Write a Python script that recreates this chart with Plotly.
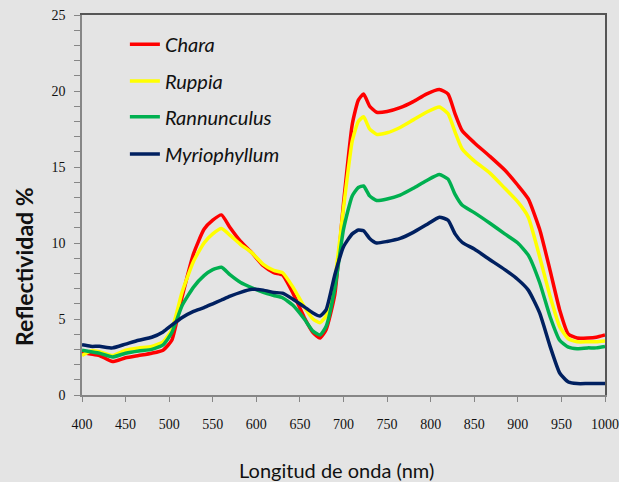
import plotly.graph_objects as go

# Wavelength sampling (nm)
wavelength = [400, 410, 420, 435, 450, 465, 480, 493, 503, 515, 528, 540, 550, 560,
              570, 582, 595, 608, 620, 630, 642, 655, 665, 673, 680, 690, 700, 710,
              717, 723, 730, 738, 750, 765, 780, 795, 810, 820, 828, 836, 850, 868,
              885, 900, 912, 925, 937, 948, 958, 968, 980, 990, 1000]

# Reflectance (%) per species
chara = [2.8, 2.7, 2.6, 2.2, 2.45, 2.6, 2.75, 2.95, 3.6, 6.5, 9.3, 10.9, 11.5, 11.85,
         11.0, 10.1, 9.35, 8.5, 8.05, 7.9, 6.7, 5.1, 4.1, 3.75, 4.3, 6.6, 12.6, 17.8,
         19.4, 19.8, 19.0, 18.6, 18.65, 18.9, 19.3, 19.8, 20.1, 19.8, 18.5, 17.4, 16.6, 15.7,
         14.8, 13.8, 12.9, 10.9, 8.2, 5.6, 4.0, 3.75, 3.75, 3.8, 3.95]

ruppia = [2.6, 2.9, 2.85, 2.6, 2.95, 3.1, 3.2, 3.5, 4.3, 6.8, 8.8, 10.0, 10.6, 10.95,
          10.5, 9.9, 9.35, 8.6, 8.2, 8.05, 7.1, 5.8, 5.0, 4.75, 5.2, 7.6, 12.3, 16.7,
          18.0, 18.3, 17.5, 17.15, 17.25, 17.6, 18.1, 18.6, 18.95, 18.5, 17.3, 16.2, 15.4, 14.6,
          13.6, 12.7, 11.7, 9.1, 6.5, 4.5, 3.7, 3.5, 3.5, 3.5, 3.55]

rannunculus = [2.95, 2.85, 2.75, 2.5, 2.75, 2.9, 3.0, 3.3, 4.1, 5.9, 7.1, 7.85, 8.25, 8.4,
               7.9, 7.4, 7.05, 6.75, 6.55, 6.4, 5.9, 5.0, 4.2, 3.95, 4.5, 7.0, 10.9, 13.1,
               13.65, 13.75, 13.1, 12.8, 12.9, 13.15, 13.6, 14.1, 14.5, 14.2, 13.2, 12.5, 12.0, 11.3,
               10.6, 10.0, 9.2, 7.4, 5.15, 3.6, 3.15, 3.05, 3.1, 3.1, 3.2]

myriophyllum = [3.3, 3.2, 3.2, 3.1, 3.35, 3.6, 3.8, 4.15, 4.6, 5.1, 5.5, 5.75, 6.0, 6.25,
                6.5, 6.75, 6.95, 6.9, 6.75, 6.7, 6.3, 5.8, 5.4, 5.2, 5.6, 7.9, 9.75, 10.6,
                10.85, 10.8, 10.3, 10.0, 10.1, 10.3, 10.7, 11.2, 11.7, 11.5, 10.6, 10.05, 9.6, 8.9,
                8.25, 7.6, 6.9, 5.4, 3.2, 1.45, 0.85, 0.75, 0.75, 0.75, 0.75]

series = [
    ("Chara", chara, "#ff0000", "legend"),
    ("Ruppia", ruppia, "#ffff00", "legend2"),
    ("Rannunculus", rannunculus, "#00b050", "legend3"),
    ("Myriophyllum", myriophyllum, "#002060", "legend4"),
]

x_ticks = list(range(400, 1001, 50))
y_ticks = [0, 5, 10, 15, 20, 25]

fig = go.Figure()
for name, values, color, leg in series:
    fig.add_trace(go.Scatter(
        x=wavelength, y=values, name=name, mode="lines",
        line=dict(color=color, width=3.5, shape="spline", smoothing=0.5),
        legend=leg,
    ))

bg = "#e4e4e4"
legend_font = dict(family="Lato", size=20, color="#111111", style="italic")
legend_rows = [0.923, 0.826, 0.732, 0.634]
legend_common = dict(x=0.082, xanchor="left", yanchor="middle",
                     bgcolor="rgba(0,0,0,0)", font=legend_font,
                     itemwidth=30, tracegroupgap=0)

fig.update_layout(
    width=619, height=482,
    margin=dict(l=82, r=14, t=15, b=87, autoexpand=False),
    paper_bgcolor=bg, plot_bgcolor=bg,
    showlegend=True,
    legend=dict(y=legend_rows[0], **legend_common),
    legend2=dict(y=legend_rows[1], **legend_common),
    legend3=dict(y=legend_rows[2], **legend_common),
    legend4=dict(y=legend_rows[3], **legend_common),
    xaxis=dict(
        range=[400, 1000], tickvals=x_ticks, ticks="outside", ticklen=5,
        tickcolor="#868686", showgrid=False, zeroline=False, automargin=False,
        showline=True, linecolor="#868686", linewidth=1.5,
        tickfont=dict(family="Liberation Serif", size=14, color="#111111"),
        ticklabelstandoff=10,
    ),
    yaxis=dict(
        range=[0, 25], tickvals=y_ticks, ticks="outside", ticklen=6,
        tickcolor="#868686", showgrid=False, zeroline=False, automargin=False,
        showline=True, linecolor="#868686", linewidth=1.5,
        tickfont=dict(family="Liberation Serif", size=14, color="#111111"),
        ticklabelstandoff=6,
        minor=dict(dtick=1, ticks="outside", ticklen=6, tickcolor="#868686"),
    ),
    xaxis2=dict(overlaying="x", side="top", range=[400, 1000], showline=True,
                linecolor="#555555", linewidth=1.5, showticklabels=False,
                ticks="", showgrid=False, zeroline=False, automargin=False),
    yaxis2=dict(overlaying="y", side="right", range=[0, 25], showline=True,
                linecolor="#555555", linewidth=1.5, showticklabels=False,
                ticks="", showgrid=False, zeroline=False, automargin=False),
    annotations=[
        dict(text="Longitud de onda (nm)", xref="paper", yref="paper",
             x=(336 - 82) / 523, y=(395 - 470) / 380, xanchor="center", yanchor="middle",
             showarrow=False, font=dict(family="Lato", size=20, color="#111111")),
        dict(text="<b>Reflectividad %</b>", xref="paper", yref="paper",
             x=(24 - 82) / 523, y=(395 - 267) / 380, xanchor="center", yanchor="middle",
             textangle=-90, showarrow=False,
             font=dict(family="Lato", size=23, color="#111111")),
    ],
)

# Invisible trace to bring up the framing axes on the top and right
fig.add_trace(go.Scatter(x=[400], y=[0], xaxis="x2", yaxis="y2", mode="markers",
                         marker=dict(opacity=0), showlegend=False, hoverinfo="skip"))

fig.write_html("out.html")
